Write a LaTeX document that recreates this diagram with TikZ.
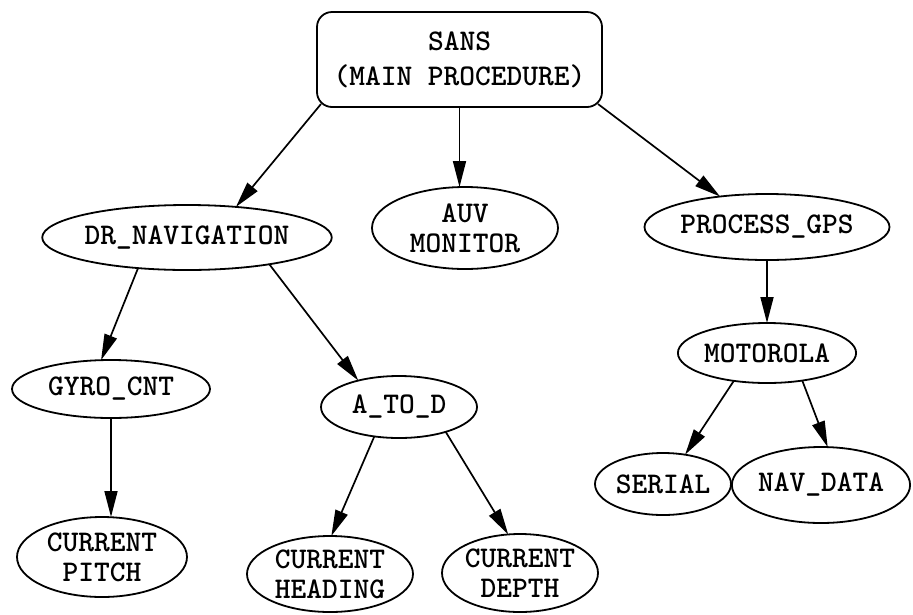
\documentclass[tikz,border=0pt]{standalone}
\usepackage{fontspec}
\usetikzlibrary{shapes.geometric,arrows.meta}
\begin{document}
\begin{tikzpicture}[x=1pt,y=-1pt,
  every node/.style={font=\ttfamily\bfseries\fontsize{30}{30}\selectfont, align=center,
    inner sep=0pt, outer sep=0pt, draw, line width=1.8pt},
  proc/.style={ellipse},
  mainbox/.style={rectangle, rounded corners=15pt},
  link/.style={line width=1.7pt, -{Triangle[length=26pt,width=13pt]}}]
\useasboundingbox (0,0) rectangle (913,614);

\node[mainbox, minimum width=285pt, minimum height=95pt] (sans) at (459.5,59.5) {SANS\\[5pt](MAIN PROCEDURE)};

\node[proc, minimum width=272pt, minimum height=65pt] (drnav) at (187,237.5) {DR\_NAVIGATION};
\node[proc, minimum width=186pt, minimum height=82pt] (auv) at (465,228) {AUV\\MONITOR};
\node[proc, minimum width=232pt, minimum height=66pt] (pgps) at (767,227) {PROCESS\_GPS};
\node[proc, minimum width=198pt, minimum height=58pt] (gyro) at (111,389) {GYRO\_CNT};
\node[proc, minimum width=156pt, minimum height=62pt] (atod) at (399,407) {A\_TO\_D};
\node[proc, minimum width=166pt, minimum height=60pt] (moto) at (767,353) {MOTOROLA};
\node[proc, minimum width=170pt, minimum height=80pt] (pitch) at (102,557) {CURRENT\\PITCH};
\node[proc, minimum width=166pt, minimum height=76pt] (heading) at (330,574) {CURRENT\\HEADING};
\node[proc, minimum width=156pt, minimum height=78pt] (depth) at (520,573) {CURRENT\\DEPTH};
\node[proc, minimum width=136pt, minimum height=62pt] (serial) at (663,484) {SERIAL};
\node[proc, minimum width=172pt, minimum height=76pt] (navdata) at (821,485) {NAV\_DATA};

\draw[link] ([xshift=4pt,yshift=3pt]sans.south west) -- (drnav.32);
\draw[link] (sans.south) -- (sans.south |- auv.north);
\draw[link] ([xshift=-4pt,yshift=3pt]sans.south east) -- (pgps.147);
\draw[link] (drnav.212) -- (gyro.109);
\draw[link] (drnav.342) -- (atod.147);
\draw[link] (gyro.south) -- (gyro.south |- pitch.north);
\draw[link] (atod.230) -- (heading.88);
\draw[link] (atod.332) -- (depth.107);
\draw[link] (pgps) -- (moto);
\draw[link] (moto.220) -- (serial.53);
\draw[link] (moto.322) -- (navdata.80);
\end{tikzpicture}
\end{document}
